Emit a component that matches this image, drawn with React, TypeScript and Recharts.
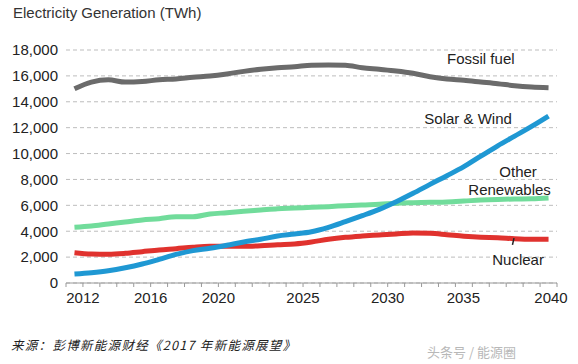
import React from "react";
import { LineChart, Line, XAxis, YAxis, CartesianGrid, ReferenceDot, ReferenceLine } from "recharts";

// Electricity generation outlook, TWh
const years = [
  2012, 2013, 2014, 2015, 2016, 2017, 2018, 2019, 2020, 2021, 2022, 2023, 2024, 2025, 2026,
  2027, 2028, 2029, 2030, 2031, 2032, 2033, 2034, 2035, 2036, 2037, 2038, 2039, 2040,
];
const fossilFuel = [
  15000, 15520, 15700, 15520, 15560, 15700, 15760, 15890, 15990, 16150, 16350, 16510, 16630, 16710, 16820,
  16840, 16820, 16630, 16510, 16380, 16200, 15940, 15760, 15660, 15530, 15400, 15240, 15140, 15090,
];
const solarWind = [
  700, 800, 950, 1180, 1470, 1830, 2210, 2500, 2680, 2910, 3170, 3380, 3630, 3780, 3960,
  4300, 4740, 5200, 5690, 6280, 6930, 7620, 8290, 8990, 9800, 10600, 11350, 12100, 12900,
];
const otherRenewables = [
  4300, 4400, 4560, 4710, 4870, 4970, 5120, 5120, 5330, 5430, 5540, 5640, 5740, 5790, 5850,
  5900, 5970, 6030, 6080, 6160, 6200, 6230, 6260, 6330, 6410, 6460, 6490, 6510, 6570,
];
const nuclear = [
  2340, 2240, 2220, 2290, 2420, 2550, 2650, 2760, 2830, 2830, 2830, 2880, 2960, 3020, 3170,
  3380, 3530, 3630, 3710, 3790, 3860, 3840, 3730, 3610, 3530, 3500, 3420, 3380, 3380,
];

const yTicks = [0, 2000, 4000, 6000, 8000, 10000, 12000, 14000, 16000, 18000];
const xLabelYears = [2012, 2016, 2020, 2025, 2030, 2035, 2040];
// the last two year labels were nudged left in the original
const xLabelNudge: Record<number, number> = { 2035: -9, 2040: -6 };

// series name labels placed in data space (year, TWh)
const seriesLabels = [
  { text: "Fossil fuel", year: 2036.0, value: 17300 },
  { text: "Solar & Wind", year: 2035.25, value: 12720 },
  { text: "Other", year: 2038.2, value: 8600 },
  { text: "Renewables", year: 2037.7, value: 7240 },
  { text: "Nuclear", year: 2038.2, value: 1780 },
];

const data = years.map((year, i) => ({
  year,
  fossil: fossilFuel[i],
  solar: solarWind[i],
  other: otherRenewables[i],
  nuclear: nuclear[i],
}));

// tick marks sit between categories, like the Excel original
const boundaries = [...years.map((y) => y - 0.5), years[years.length - 1] + 0.5];

const FONT = '"Liberation Sans", Arial, sans-serif';
const TEXT = "#222";

function XTick(props: any) {
  const { x, y, payload } = props;
  const yr = payload.value - 0.5;
  if (!xLabelYears.includes(yr)) return null;
  return (
    <text x={x + (xLabelNudge[yr] || 0)} y={y} dy={14} textAnchor="middle" fill={TEXT} fontSize={15} fontFamily={FONT}>
      {yr}
    </text>
  );
}

export default function App() {
  return (
    <div style={{ position: "absolute", left: 0, top: 0, width: 578, height: 364, background: "#fff", fontFamily: FONT }}>
      <div style={{ position: "absolute", left: 13, top: 4, fontSize: 15, lineHeight: "18px", color: "#333" }}>
        Electricity Generation (TWh)
      </div>
      <LineChart width={578} height={364} data={data} margin={{ top: 50, right: 21, bottom: 51, left: 0 }}>
        <CartesianGrid vertical={false} stroke="#bdbdbd" strokeDasharray="4 3" />
        <XAxis
          dataKey="year"
          type="number"
          domain={[2011.5, 2040.5]}
          ticks={boundaries}
          interval={0}
          tickSize={4}
          tickMargin={2}
          tickLine={{ stroke: "#9a9a9a" }}
          axisLine={{ stroke: "#9a9a9a" }}
          tick={<XTick />}
          height={30}
        />
        <YAxis
          domain={[0, 18000]}
          ticks={yTicks}
          interval={0}
          axisLine={false}
          tickLine={false}
          width={66}
          tick={{ fill: TEXT, fontSize: 15, fontFamily: FONT }}
          tickFormatter={(v) => v.toLocaleString("en-US")}
        />
        <Line type="monotone" dataKey="fossil" stroke="#6b6b6b" strokeWidth={5} dot={false} isAnimationActive={false} />
        <Line type="monotone" dataKey="other" stroke="#71dc9b" strokeWidth={5} dot={false} isAnimationActive={false} />
        <Line type="monotone" dataKey="nuclear" stroke="#e0322e" strokeWidth={5} dot={false} isAnimationActive={false} />
        <Line type="monotone" dataKey="solar" stroke="#1f98d3" strokeWidth={5} dot={false} isAnimationActive={false} />
        {seriesLabels.map((l) => (
          <ReferenceDot
            key={l.text}
            x={l.year}
            y={l.value}
            r={0}
            fill="none"
            stroke="none"
            label={{ value: l.text, position: "center", fill: TEXT, fontSize: 15, fontFamily: FONT }}
          />
        ))}
        {/* little leader tick pointing at the nuclear line */}
        <ReferenceLine
          segment={[
            { x: 2037.96, y: 3470 },
            { x: 2037.87, y: 2940 },
          ]}
          stroke="#222"
          strokeWidth={1.5}
        />
      </LineChart>
      <div
        style={{
          position: "absolute",
          left: 11,
          top: 336,
          fontSize: 12.5,
          lineHeight: "18px",
          fontStyle: "italic",
          color: "#222",
          letterSpacing: 1.3,
          fontFamily: '"Noto Sans CJK SC", sans-serif',
        }}
      >
        来源：彭博新能源财经《2017 年新能源展望》
      </div>
      <div
        style={{
          position: "absolute",
          left: 427,
          top: 343,
          fontSize: 13,
          lineHeight: "18px",
          color: "#b8b8b8",
          fontFamily: '"Noto Sans CJK SC", sans-serif',
        }}
      >
        头条号 / 能源圈
      </div>
    </div>
  );
}
